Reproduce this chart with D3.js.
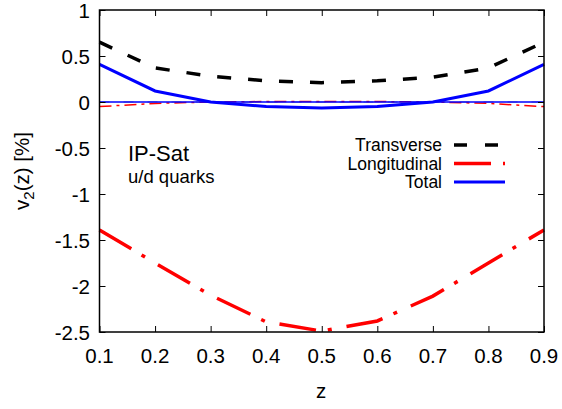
<!DOCTYPE html>
<html>
<head>
<meta charset="utf-8">
<script src="https://cdn.jsdelivr.net/npm/d3@7"></script>
<style>
body { margin: 0; background: #fff; }
text { font-family: "Liberation Sans", Arial, sans-serif; fill: #000; }
</style>
</head>
<body>
<div id="chart"></div>
<script>
let zs = [0.1, 0.2, 0.3, 0.4, 0.5, 0.6, 0.7, 0.8, 0.9]
// thick curves
let transverse = [0.65, 0.37, 0.28, 0.23, 0.21, 0.23, 0.27, 0.37, 0.65]
let longitudinal = [-1.39, -1.75, -2.10, -2.39, -2.49, -2.38, -2.11, -1.75, -1.39]
let total = [0.41, 0.12, 0.0, -0.05, -0.065, -0.05, 0.0, 0.12, 0.41]
// thin curves near zero
let transverseThin = [0, 0, 0, 0, 0, 0, 0, 0, 0]
let longitudinalThin = [-0.05, -0.015, 0.0, 0.005, 0.005, 0.005, 0.0, -0.015, -0.05]
let totalThin = [0, 0, 0, 0, 0, 0, 0, 0, 0]
let xTicks = [0.1, 0.2, 0.3, 0.4, 0.5, 0.6, 0.7, 0.8, 0.9]
let yTicks = [1, 0.5, 0, -0.5, -1, -1.5, -2, -2.5]

let width = 562, height = 409
let mLeft = 99.5, mRight = 544, mTop = 10, mBottom = 332

let svg = d3.select("div#chart").append("svg")
    .attr("width", width)
    .attr("height", height)

let x = d3.scaleLinear().domain([0.1, 0.9]).range([mLeft, mRight])
let y = d3.scaleLinear().domain([-2.5, 1]).range([mBottom, mTop])

let line = d3.line().x(d => x(d[0])).y(d => y(d[1]))

function draw(vals, color, w, dash){
    svg.append("path")
        .attr("d", line(zs.map((z, i) => [z, vals[i]])))
        .style("fill", "none")
        .style("stroke", color)
        .style("stroke-width", w)
        .style("stroke-dasharray", dash)
}

// thin ones first
draw(transverseThin, "#888", 1.2, "10,14")
draw(longitudinalThin, "red", 1.5, "12,5,3,5")
draw(totalThin, "blue", 1.5, null)
// thick ones
draw(transverse, "black", 3.5, "14,17")
draw(longitudinal, "red", 3.5, "37,12,4,15")
draw(total, "blue", 3, null)

// axes: inward ticks on all sides
let g = svg.append("g")
g.append("g").attr("transform", "translate(0," + mBottom + ")")
    .call(d3.axisTop(x).tickValues(xTicks).tickSize(6).tickFormat(""))
g.append("g").attr("transform", "translate(0," + mTop + ")")
    .call(d3.axisBottom(x).tickValues(xTicks).tickSize(6).tickFormat(""))
g.append("g").attr("transform", "translate(" + mLeft + ",0)")
    .call(d3.axisRight(y).tickValues(yTicks).tickSize(6).tickFormat(""))
g.append("g").attr("transform", "translate(" + mRight + ",0)")
    .call(d3.axisLeft(y).tickValues(yTicks).tickSize(6).tickFormat(""))
g.selectAll(".domain").remove()
g.selectAll(".tick line").style("stroke", "#000").style("stroke-width", 1)

svg.append("rect")
    .attr("x", mLeft).attr("y", mTop)
    .attr("width", mRight-mLeft).attr("height", mBottom-mTop)
    .style("fill", "none").style("stroke", "black").style("stroke-width", 1.5)

// tick labels
svg.selectAll("text.xl").data(xTicks).enter().append("text")
    .attr("x", d => x(d)).attr("y", 363)
    .attr("text-anchor", "middle").style("font-size", "20.5px")
    .text(d => d3.format(".1f")(d))
svg.selectAll("text.yl").data(yTicks).enter().append("text")
    .attr("x", 90).attr("y", d => y(d) + 7.5)
    .attr("text-anchor", "end").style("font-size", "20.5px")
    .text(d => d)

// axis titles
svg.append("text").attr("x", 321).attr("y", 398)
    .attr("text-anchor", "middle").style("font-size", "20.5px").text("z")
let yt = svg.append("text")
    .attr("transform", "translate(29,171) rotate(-90)")
    .attr("text-anchor", "middle").style("font-size", "20.5px")
yt.append("tspan").text("v")
yt.append("tspan").attr("dy", 5).style("font-size", "15px").text("2")
yt.append("tspan").attr("dy", -5).text("(z) [%]")

// labels
svg.append("text").attr("x", 128).attr("y", 161).style("font-size", "22px").text("IP-Sat")
svg.append("text").attr("x", 128).attr("y", 183).style("font-size", "18.5px").text("u/d quarks")

// legend
let legend = [
    {name: "Transverse", color: "black", w: 3.5, dash: "13,18"},
    {name: "Longitudinal", color: "red", w: 3.5, dash: "37,12,4,15"},
    {name: "Total", color: "blue", w: 3, dash: null}
]
legend.forEach((l, i) => {
    let yy = 145 + i*18.5
    svg.append("text").attr("x", 442).attr("y", yy + 6)
        .attr("text-anchor", "end").style("font-size", "17.5px").text(l.name)
    svg.append("line").attr("x1", 454).attr("x2", 505).attr("y1", yy).attr("y2", yy)
        .style("stroke", l.color).style("stroke-width", l.w)
        .style("stroke-dasharray", l.dash)
})
</script>
</body>
</html>
